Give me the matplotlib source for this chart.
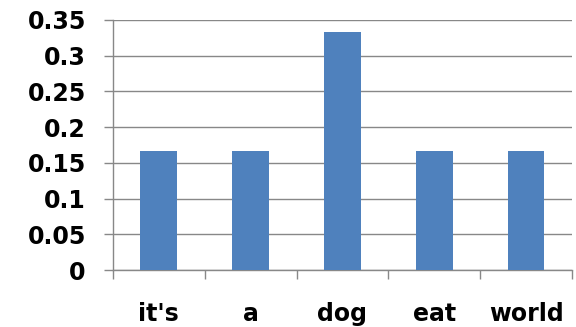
import numpy as np
import matplotlib
matplotlib.use('Agg')
import matplotlib.pyplot as plt
from matplotlib.ticker import FixedLocator

words = ["it's", "a", "dog", "eat", "world"]
probs = [1/6, 1/6, 1/3, 1/6, 1/6]
yticks = [0, 0.05, 0.1, 0.15, 0.2, 0.25, 0.3, 0.35]
ylabels = ['0', '0.05', '0.1', '0.15', '0.2', '0.25', '0.3', '0.35']

fig = plt.figure(figsize=(5.76, 3.27), dpi=100)
ax = fig.add_axes([0.196, 0.174, 0.797, 0.765])

x = np.arange(len(words))
ax.bar(x, probs, width=0.4, color='#4f81bd', zorder=3)

ax.set_xlim(-0.5, len(words) - 0.5)
ax.set_ylim(0, 0.35)

ax.set_yticks(yticks)
ax.set_yticklabels(ylabels)
ax.yaxis.grid(True, color='#888888', linewidth=1.0, zorder=0)

ax.set_xticks(x)
ax.set_xticklabels(words)
ax.xaxis.set_minor_locator(FixedLocator(np.arange(len(words) + 1) - 0.5))
ax.tick_params(axis='x', which='major', length=0, pad=23)
ax.tick_params(axis='x', which='minor', length=6.5, direction='out', color='#888888', width=1)
ax.tick_params(axis='y', length=6.5, direction='out', color='#888888', width=1, pad=13)

for lbl in ax.get_xticklabels() + ax.get_yticklabels():
    lbl.set_fontsize(17)
    lbl.set_fontweight('bold')

for side in ['top', 'right']:
    ax.spines[side].set_visible(False)
for side in ['left', 'bottom']:
    ax.spines[side].set_color('#888888')
    ax.spines[side].set_linewidth(1.0)

plt.savefig('out.png', dpi=100)
